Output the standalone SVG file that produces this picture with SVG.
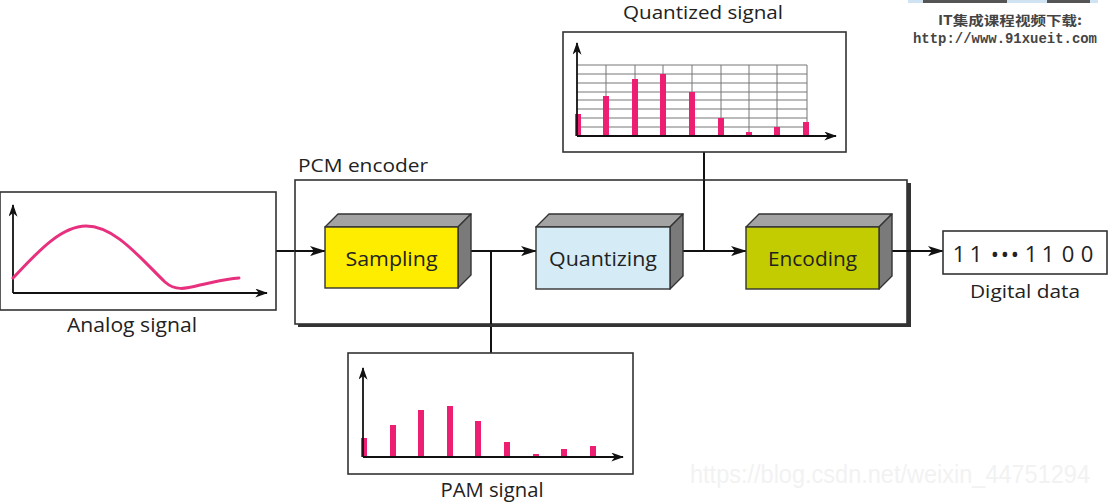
<svg xmlns="http://www.w3.org/2000/svg" width="1108" height="504" viewBox="0 0 1108 504">
<style>
.lbl{font-family:"Open Sans","Noto Sans","Liberation Sans",sans-serif;fill:#222;}
.frame{fill:#fff;stroke:#333;stroke-width:1.6;}
.conn{fill:none;stroke:#111;stroke-width:2;}
.axis{fill:none;stroke:#111;stroke-width:1.8;}
.grid{fill:none;stroke:#777;stroke-width:1;}
.bar{fill:#ec1f73;}
.top{fill:#a3a3a3;stroke:#333;stroke-width:1.4;stroke-linejoin:round;}
.side{fill:#7a7a7a;stroke:#333;stroke-width:1.4;stroke-linejoin:round;}
.front{stroke:#333;stroke-width:1.4;}
</style>
<defs>
<marker id="arr" viewBox="0 0 16 10" refX="15" refY="5" markerWidth="16" markerHeight="10" markerUnits="userSpaceOnUse" orient="auto">
<path d="M0,0 L16,5 L0,10 L4,5 z" fill="#111"/>
</marker>
<marker id="ax" viewBox="0 0 14 10" refX="13" refY="5" markerWidth="13" markerHeight="9" markerUnits="userSpaceOnUse" orient="auto">
<path d="M0,0 L14,5 L0,10 L4,5 z" fill="#111"/>
</marker>
</defs>
<rect width="1108" height="504" fill="#fff"/>

<!-- watermark strip top right -->
<g id="watermark-top">
<rect x="908" y="0" width="190" height="3" fill="#cfe3f3"/>
<rect x="923" y="0" width="84" height="3" fill="#555"/>
<rect x="1047" y="0" width="43" height="3" fill="#555"/>
<text x="1010" y="25" text-anchor="middle" font-family="'Noto Sans CJK SC','Liberation Serif',serif" font-size="13" font-weight="bold" fill="#444" textLength="144" lengthAdjust="spacingAndGlyphs">IT集成课程视频下载:</text>
<text x="1005" y="43" text-anchor="middle" font-family="'Liberation Mono',monospace" font-size="14" font-weight="bold" fill="#444" textLength="184" lengthAdjust="spacingAndGlyphs">http://www.91xueit.com</text>
</g>

<!-- connectors -->
<g id="connectors">
<line class="conn" x1="276" y1="251" x2="325" y2="251" marker-end="url(#arr)"/>
<line class="conn" x1="491" y1="324" x2="491" y2="353"/>
<line class="conn" x1="704" y1="152" x2="704" y2="180"/>
<line class="conn" x1="891" y1="251" x2="943" y2="251" marker-end="url(#arr)"/>
</g>

<!-- PCM encoder -->
<g id="pcm-encoder">
<rect x="298" y="183" width="613" height="144" fill="#333"/>
<rect x="295" y="180" width="612" height="144" class="frame"/>
<line class="conn" x1="704" y1="180" x2="704" y2="251"/>
<line class="conn" x1="471" y1="251" x2="536" y2="251" marker-end="url(#arr)"/>
<line class="conn" x1="491" y1="251" x2="491" y2="324"/>
<line class="conn" x1="682" y1="251" x2="746" y2="251" marker-end="url(#arr)"/>
<line class="conn" x1="295" y1="251" x2="325" y2="251" marker-end="url(#arr)"/>
<line class="conn" x1="891" y1="251" x2="912" y2="251"/>
<text class="lbl" x="298" y="172" font-size="18" textLength="130" lengthAdjust="spacingAndGlyphs">PCM encoder</text>
</g>

<!-- Sampling -->
<g id="sampling">
<polygon class="top" points="325,227 338,214 471,214 458,227"/>
<polygon class="side" points="458,227 471,214 471,275 458,288"/>
<rect class="front" x="325" y="227" width="133" height="61" fill="#ffed00"/>
<text class="lbl" x="391.5" y="266" font-size="20" text-anchor="middle" textLength="92" lengthAdjust="spacingAndGlyphs">Sampling</text>
</g>

<!-- Quantizing -->
<g id="quantizing">
<polygon class="top" points="536,227 549,214 683,214 670,227"/>
<polygon class="side" points="670,227 683,214 683,276 670,289"/>
<rect class="front" x="536" y="227" width="134" height="62" fill="#d5ebf5"/>
<text class="lbl" x="603" y="266" font-size="20" text-anchor="middle" textLength="108" lengthAdjust="spacingAndGlyphs">Quantizing</text>
</g>

<!-- Encoding -->
<g id="encoding">
<polygon class="top" points="746,227 759,214 892,214 879,227"/>
<polygon class="side" points="879,227 892,214 892,276 879,289"/>
<rect class="front" x="746" y="227" width="133" height="62" fill="#c2cc00"/>
<text class="lbl" x="812.5" y="266" font-size="20" text-anchor="middle" textLength="89" lengthAdjust="spacingAndGlyphs">Encoding</text>
</g>

<!-- Digital data -->
<g id="digital-data">
<rect class="frame" x="943" y="231" width="164" height="43"/>
<text class="lbl" x="959 976 995 1005 1015 1031 1048 1068 1087" y="262" font-size="22" text-anchor="middle">11•••1100</text>
<text class="lbl" x="1025" y="298" font-size="19" text-anchor="middle" textLength="110" lengthAdjust="spacingAndGlyphs">Digital data</text>
</g>

<!-- Analog signal -->
<g id="analog-signal">
<rect class="frame" x="0" y="192" width="276" height="118"/>
<line class="axis" x1="13" y1="293" x2="13" y2="205" marker-end="url(#ax)"/>
<line class="axis" x1="13" y1="293" x2="267" y2="293" marker-end="url(#ax)"/>
<path d="M13,278 C35,255 60,226 86,226 C115,226 140,258 165,282 C175,291 185,289 200,285 C215,282 225,279 239,278" fill="none" stroke="#e8317e" stroke-width="3" stroke-linecap="round"/>
<text class="lbl" x="132" y="332" font-size="20" text-anchor="middle" textLength="130" lengthAdjust="spacingAndGlyphs">Analog signal</text>
</g>

<!-- Quantized signal -->
<g id="quantized-signal">
<rect class="frame" x="563" y="32" width="283" height="120"/>
<g class="grid">
<line x1="577" y1="65" x2="807" y2="65"/>
<line x1="577" y1="74" x2="807" y2="74"/>
<line x1="577" y1="83" x2="807" y2="83"/>
<line x1="577" y1="92" x2="807" y2="92"/>
<line x1="577" y1="100" x2="807" y2="100"/>
<line x1="577" y1="109" x2="807" y2="109"/>
<line x1="577" y1="118" x2="807" y2="118"/>
<line x1="577" y1="127" x2="807" y2="127"/>
<line x1="606" y1="65" x2="606" y2="136"/>
<line x1="635" y1="65" x2="635" y2="136"/>
<line x1="663" y1="65" x2="663" y2="136"/>
<line x1="692" y1="65" x2="692" y2="136"/>
<line x1="721" y1="65" x2="721" y2="136"/>
<line x1="749" y1="65" x2="749" y2="136"/>
<line x1="777" y1="65" x2="777" y2="136"/>
<line x1="807" y1="65" x2="807" y2="136"/>
</g>
<rect class="bar" x="575" y="114" width="6" height="22"/>
<rect class="bar" x="603" y="96" width="6" height="40"/>
<rect class="bar" x="632" y="79" width="6" height="57"/>
<rect class="bar" x="660" y="74" width="6" height="62"/>
<rect class="bar" x="689" y="92" width="6" height="44"/>
<rect class="bar" x="718" y="118" width="6" height="18"/>
<rect class="bar" x="746" y="132" width="6" height="4"/>
<rect class="bar" x="774" y="127" width="6" height="9"/>
<rect class="bar" x="803" y="122" width="6" height="14"/>
<line class="axis" x1="577" y1="136" x2="577" y2="43" marker-end="url(#ax)"/>
<line class="axis" x1="577" y1="136" x2="836" y2="136" marker-end="url(#ax)"/>
<text class="lbl" x="703" y="19" font-size="19" text-anchor="middle" textLength="160" lengthAdjust="spacingAndGlyphs">Quantized signal</text>
</g>

<!-- PAM signal -->
<g id="pam-signal">
<rect class="frame" x="348" y="353" width="285" height="121"/>
<rect class="bar" x="361" y="438" width="6" height="19"/>
<rect class="bar" x="390" y="425" width="6" height="32"/>
<rect class="bar" x="418" y="410" width="6" height="47"/>
<rect class="bar" x="447" y="406" width="6" height="51"/>
<rect class="bar" x="475" y="421" width="6" height="36"/>
<rect class="bar" x="504" y="442" width="6" height="15"/>
<rect class="bar" x="533" y="454" width="6" height="3"/>
<rect class="bar" x="561" y="449" width="6" height="8"/>
<rect class="bar" x="590" y="446" width="6" height="11"/>
<line class="axis" x1="363" y1="457" x2="363" y2="368" marker-end="url(#ax)"/>
<line class="axis" x1="363" y1="457" x2="623" y2="457" marker-end="url(#ax)"/>
<text class="lbl" x="492" y="497" font-size="20" text-anchor="middle" textLength="103" lengthAdjust="spacingAndGlyphs">PAM signal</text>
</g>

<!-- csdn watermark -->
<text x="690" y="483" font-family="'Liberation Sans',Arial,sans-serif" font-size="25" fill="#f2f2f2" textLength="400" lengthAdjust="spacingAndGlyphs">https://blog.csdn.net/weixin_44751294</text>
</svg>
